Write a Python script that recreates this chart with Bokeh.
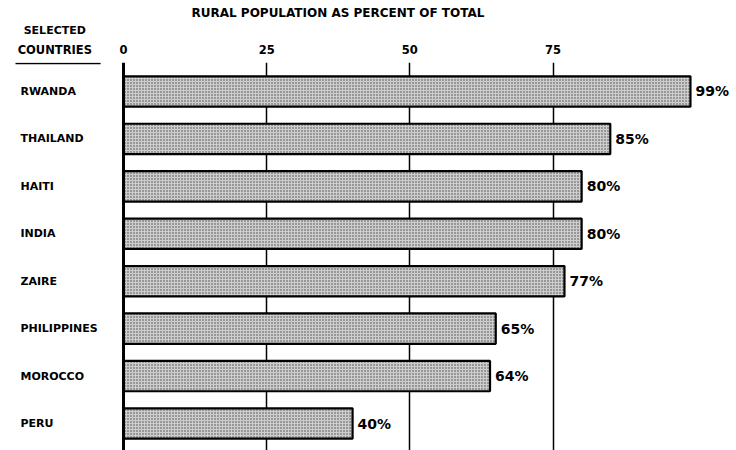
from bokeh.plotting import figure
from bokeh.models import (ColumnDataSource, FixedTicker, Range1d, Span,
                          Arrow, LinearAxis)
from bokeh.embed import file_html
from bokeh.resources import INLINE
from bokeh.core.properties import value

# ---- data ----
countries = ["RWANDA", "THAILAND", "HAITI", "INDIA", "ZAIRE",
             "PHILIPPINES", "MOROCCO", "PERU"]
rural_pct = [99, 85, 80, 80, 77, 65, 64, 40]
tick_values = [0, 25, 50, 75]
title_text = "RURAL POPULATION AS PERCENT OF TOTAL"
header_lines = ["SELECTED", "COUNTRIES"]

FONT = "DejaVu Sans"
HEADER_X = -12   # data x of the header column centre

n = len(countries)
ypos = [n - 1 - i for i in range(n)]
labels = [f"{v}%" for v in rural_pct]
label_x = [-18.0] * n

src = ColumnDataSource(dict(country=countries, pct=rural_pct, y=ypos,
                            lab=labels, lx=label_x))

p = figure(width=736, height=450, output_backend="svg", toolbar_location=None,
           x_range=Range1d(-21.48, 107.04), y_range=Range1d(-0.569, 7.611),
           x_axis_location="above", y_axis_location=None,
           min_border_left=0, min_border_right=0, min_border_bottom=0,
           min_border_top=62)
p.outline_line_color = None
p.background_fill_color = "white"
p.border_fill_color = "white"

# title
p.title.text = title_text
p.title.align = "left"
p.title.offset = 191
p.title.text_font = FONT
p.title.text_font_style = "bold"
p.title.text_font_size = "12px"
p.title.text_color = "black"
p.title.standoff = 1


def style_axis(a, size):
    a.axis_line_color = None
    a.major_tick_line_color = None
    a.minor_tick_line_color = None
    a.major_tick_out = 0
    a.major_tick_in = 0
    a.major_label_text_font = FONT
    a.major_label_text_font_style = "bold"
    a.major_label_text_font_size = size
    a.major_label_text_color = "black"


# main top axis (percent ticks + the "COUNTRIES" header)
ax = p.xaxis[0]
ax.ticker = FixedTicker(ticks=[HEADER_X] + tick_values)
ax.major_label_overrides = {HEADER_X: header_lines[1]}
style_axis(ax, "11.5px")
ax.major_label_standoff = 6

# second top axis carrying the "SELECTED" header
ax2 = LinearAxis(ticker=FixedTicker(ticks=[HEADER_X]),
                 major_label_overrides={HEADER_X: header_lines[0]})
style_axis(ax2, "11px")
ax2.major_label_standoff = 3
p.add_layout(ax2, "above")

p.ygrid.visible = False
p.xgrid.ticker = FixedTicker(ticks=tick_values[1:])
p.xgrid.grid_line_color = "black"
p.xgrid.grid_line_width = 1.5

p.hbar(y="y", right="pct", left=0, height=0.64, source=src,
       fill_color="#cdcdcd", line_color="black", line_width=2.2,
       hatch_pattern="dot", hatch_color="#444444", hatch_scale=3,
       hatch_weight=1.0)

p.add_layout(Span(location=0, dimension="height", line_color="black",
                  line_width=3))

p.text(x="pct", y="y", text="lab", source=src, x_offset=5,
       text_font=value(FONT), text_font_style="bold", text_font_size="14px",
       text_baseline="middle", text_align="left", text_color="black")

p.text(x="lx", y="y", text="country", source=src,
       text_font=value(FONT), text_font_style="bold", text_font_size="11px",
       text_baseline="middle", text_align="left", text_color="black")

# underline of the header
p.add_layout(Arrow(end=None, x_start=-18.86, x_end=-4.0, y_start=7.59,
                   y_end=7.59, line_color="black", line_width=1.5))

open("out.html", "w").write(file_html(p, INLINE))
